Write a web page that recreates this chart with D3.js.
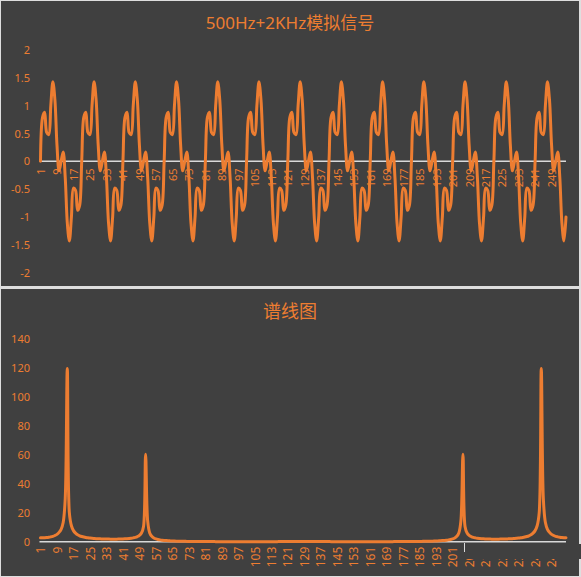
<!DOCTYPE html>
<html>
<head>
<meta charset="utf-8">
<script src="https://cdn.jsdelivr.net/npm/d3@7"></script>
<style>
  body { margin: 0; background: #dedede; }
  svg { display: block; }
</style>
</head>
<body>
<svg id="chart"></svg>
<script>
const signal = [
  0, 0.79, 0.88, 0.52, 0.48, 1, 1.43, 1.1, 0.29, -0.17, 0, 0.17, -0.29, -1.1, -1.43, -1, -0.48, -0.52, -0.88, -0.79,
  0, 0.79, 0.88, 0.52, 0.48, 1, 1.43, 1.1, 0.29, -0.17, 0, 0.17, -0.29, -1.1, -1.43, -1, -0.48, -0.52, -0.88, -0.79,
  0, 0.79, 0.88, 0.52, 0.48, 1, 1.43, 1.1, 0.29, -0.17, 0, 0.17, -0.29, -1.1, -1.43, -1, -0.48, -0.52, -0.88, -0.79,
  0, 0.79, 0.88, 0.52, 0.48, 1, 1.43, 1.1, 0.29, -0.17, 0, 0.17, -0.29, -1.1, -1.43, -1, -0.48, -0.52, -0.88, -0.79,
  0, 0.79, 0.88, 0.52, 0.48, 1, 1.43, 1.1, 0.29, -0.17, 0, 0.17, -0.29, -1.1, -1.43, -1, -0.48, -0.52, -0.88, -0.79,
  0, 0.79, 0.88, 0.52, 0.48, 1, 1.43, 1.1, 0.29, -0.17, 0, 0.17, -0.29, -1.1, -1.43, -1, -0.48, -0.52, -0.88, -0.79,
  0, 0.79, 0.88, 0.52, 0.48, 1, 1.43, 1.1, 0.29, -0.17, 0, 0.17, -0.29, -1.1, -1.43, -1, -0.48, -0.52, -0.88, -0.79,
  0, 0.79, 0.88, 0.52, 0.48, 1, 1.43, 1.1, 0.29, -0.17, 0, 0.17, -0.29, -1.1, -1.43, -1, -0.48, -0.52, -0.88, -0.79,
  0, 0.79, 0.88, 0.52, 0.48, 1, 1.43, 1.1, 0.29, -0.17, 0, 0.17, -0.29, -1.1, -1.43, -1, -0.48, -0.52, -0.88, -0.79,
  0, 0.79, 0.88, 0.52, 0.48, 1, 1.43, 1.1, 0.29, -0.17, 0, 0.17, -0.29, -1.1, -1.43, -1, -0.48, -0.52, -0.88, -0.79,
  0, 0.79, 0.88, 0.52, 0.48, 1, 1.43, 1.1, 0.29, -0.17, 0, 0.17, -0.29, -1.1, -1.43, -1, -0.48, -0.52, -0.88, -0.79,
  0, 0.79, 0.88, 0.52, 0.48, 1, 1.43, 1.1, 0.29, -0.17, 0, 0.17, -0.29, -1.1, -1.43, -1, -0.48, -0.52, -0.88, -0.79,
  0, 0.79, 0.88, 0.52, 0.48, 1, 1.43, 1.1, 0.29, -0.17, 0, 0.17, -0.29, -1.1, -1.43, -1
];

// magnitude spectrum, 256 bins
const spectrum = [
  2.66, 2.69, 2.75, 2.88, 3.07, 3.35, 3.72, 4.3, 5.09, 6.45,
  8.57, 13.28, 29.88, 119.85, 20.07, 11.03, 7.65, 5.92, 4.82, 4.1,
  3.59, 3.2, 2.9, 2.67, 2.49, 2.35, 2.23, 2.12, 2.03, 1.96,
  1.89, 1.85, 1.81, 1.79, 1.77, 1.76, 1.77, 1.78, 1.81, 1.85,
  1.91, 1.99, 2.08, 2.22, 2.4, 2.65, 2.99, 3.55, 4.39, 6.07,
  10.59, 60.48, 14.38, 6.08, 3.72, 2.6, 1.96, 1.55, 1.25, 1.04,
  0.88, 0.75, 0.64, 0.56, 0.49, 0.43, 0.38, 0.33, 0.29, 0.26,
  0.24, 0.22, 0.2, 0.18, 0.16, 0.14, 0.13, 0.11, 0.1, 0.09,
  0.08, 0.07, 0.07, 0.06, 0.06, 0.05, 0.05, 0.05, 0.04, 0.04,
  0.04, 0.04, 0.04, 0.04, 0.04, 0.04, 0.04, 0.04, 0.04, 0.04,
  0.04, 0.04, 0.04, 0.04, 0.04, 0.04, 0.05, 0.05, 0.05, 0.05,
  0.05, 0.05, 0.05, 0.05, 0.05, 0.05, 0.06, 0.06, 0.06, 0.06,
  0.06, 0.06, 0.06, 0.06, 0.06, 0.06, 0.06, 0.06, 0.06,
  0.06, 0.06, 0.06, 0.06, 0.06, 0.06, 0.06, 0.06, 0.06, 0.06, 0.06, 0.06,
  0.05, 0.05, 0.05, 0.05, 0.05, 0.05, 0.05, 0.05, 0.05, 0.05,
  0.04, 0.04, 0.04, 0.04, 0.04, 0.04, 0.04, 0.04, 0.04, 0.04,
  0.04, 0.04, 0.04, 0.04, 0.04, 0.04, 0.04, 0.04,
  0.05, 0.05, 0.05, 0.06, 0.06, 0.07, 0.07, 0.08, 0.09, 0.1,
  0.11, 0.13, 0.14, 0.16, 0.18, 0.2, 0.22, 0.24, 0.26, 0.29,
  0.33, 0.38, 0.43, 0.49, 0.56, 0.64, 0.75, 0.88, 1.04, 1.25,
  1.55, 1.96, 2.6, 3.72, 6.08, 14.38, 60.48, 10.59, 6.07, 4.39,
  3.55, 2.99, 2.65, 2.4, 2.22, 2.08, 1.99, 1.91, 1.85, 1.81,
  1.78, 1.77, 1.76, 1.77, 1.79, 1.81, 1.85, 1.89, 1.96, 2.03,
  2.12, 2.23, 2.35, 2.49, 2.67, 2.9, 3.2, 3.59, 4.1, 4.82,
  5.92, 7.65, 11.03, 20.07, 119.85, 29.88, 13.28, 8.57, 6.45, 5.09,
  4.3, 3.72, 3.35, 3.07, 2.88, 2.75, 2.69
];

const sampleIndex = d3.range(1, 257);
const xTickLabels = [1, 9, 17, 25, 33, 41, 49, 57, 65, 73, 81, 89, 97, 105, 113, 121,
  129, 137, 145, 153, 161, 169, 177, 185, 193, 201, 209, 217, 225, 233, 241, 249];
const signalTicks = [-2, -1.5, -1, -0.5, 0, 0.5, 1, 1.5, 2];
const spectrumTicks = [0, 20, 40, 60, 80, 100, 120, 140];

const titles = ["500Hz+2KHz模拟信号", "谱线图"];

// layout
const width = 581, height = 577;
const bg = "#404040", orange = "#ED7D31", axisColor = "#d9d9d9";
const fontFamily = "'Noto Sans', 'Noto Sans CJK SC', sans-serif";

const svg = d3.select("#chart").attr("width", width).attr("height", height);

// two dark panels on a light frame
svg.append("rect").attr("x", 1).attr("y", 1).attr("width", 578).attr("height", 285).attr("fill", bg);
svg.append("rect").attr("x", 1).attr("y", 289).attr("width", 578).attr("height", 287).attr("fill", bg);

const x = d3.scalePoint().domain(sampleIndex).range([40.5, 566]);

function drawPanel(cfg) {
  const g = svg.append("g");

  g.append("text")
    .attr("x", 290).attr("y", cfg.titleY)
    .attr("text-anchor", "middle")
    .attr("fill", orange)
    .style("font-family", fontFamily)
    .style("font-size", cfg.titleSize)
    .text(cfg.title);

  // y labels
  const yAxis = g.append("g")
    .attr("transform", "translate(30,0)")
    .call(d3.axisLeft(cfg.y).tickValues(cfg.ticks).tickSize(0).tickPadding(0)
      .tickFormat(d => String(d)));
  yAxis.select(".domain").remove();
  yAxis.selectAll("text")
    .attr("fill", orange)
    .style("font-family", fontFamily)
    .style("font-size", "11px");

  // category axis with vertical labels
  const xAxis = g.append("g")
    .attr("transform", `translate(0,${cfg.y(0)})`)
    .call(d3.axisBottom(x).tickValues(xTickLabels).tickSize(0));
  xAxis.select(".domain")
    .attr("d", `M${x(1) - 1},0H${x(256)}`)
    .attr("stroke", axisColor)
    .attr("stroke-width", 1.5);
  xAxis.selectAll("text")
    .attr("transform", "rotate(-90)")
    .attr("x", -cfg.labelGap)
    .attr("y", 0)
    .attr("dy", "0.35em")
    .style("text-anchor", "end")
    .attr("fill", orange)
    .style("font-family", fontFamily)
    .style("font-size", cfg.labelSize);

  const line = d3.line()
    .x((d, i) => x(sampleIndex[i]))
    .y(d => cfg.y(d))
    .curve(d3.curveCatmullRom.alpha(0.5));

  g.append("path")
    .datum(cfg.values)
    .attr("d", line)
    .attr("fill", "none")
    .attr("stroke", orange)
    .attr("stroke-width", 3)
    .attr("stroke-linejoin", "round")
    .attr("stroke-linecap", "round");

  return g;
}

drawPanel({
  title: titles[0], titleY: 29, titleSize: "17px",
  y: d3.scaleLinear().domain([-2, 2]).range([272.7, 50]),
  ticks: signalTicks, values: signal, labelGap: 7, labelSize: "11px"
});

const bottom = drawPanel({
  title: titles[1], titleY: 318, titleSize: "18px",
  y: d3.scaleLinear().domain([0, 140]).range([541.7, 339.3]),
  ticks: spectrumTicks, values: spectrum, labelGap: 5, labelSize: "12px"
});

// leftover patch over the last labels, as in the original screenshot
bottom.append("rect")
  .attr("x", 464).attr("y", 544).attr("width", 117).attr("height", 15)
  .attr("fill", bg);
bottom.append("line")
  .attr("x1", 464.5).attr("x2", 464.5).attr("y1", 543).attr("y2", 552)
  .attr("stroke", axisColor).attr("stroke-width", 1);
</script>
</body>
</html>
